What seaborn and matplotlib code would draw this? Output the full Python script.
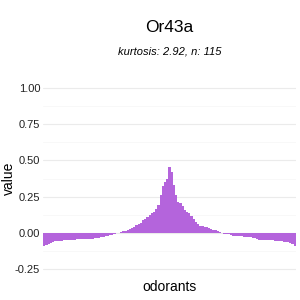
import matplotlib
matplotlib.use("Agg")
import matplotlib.pyplot as plt
import seaborn as sns
import pandas as pd
from matplotlib.ticker import MultipleLocator

title = "Or43a"
subtitle = "kurtosis: 2.92, n: 115"
y_ticks = [-0.25, 0.0, 0.25, 0.5, 0.75, 1.0]
y_tick_labels = ["-0.25", "0.00", "0.25", "0.50", "0.75", "1.00"]

values = [
    -0.094, -0.083, -0.075, -0.068, -0.063, -0.060, -0.058, -0.056, -0.054, -0.052,
    -0.051, -0.050, -0.049, -0.048, -0.047, -0.046, -0.046, -0.045, -0.045, -0.044,
    -0.044, -0.042, -0.040, -0.038, -0.036, -0.034, -0.032, -0.028, -0.024, -0.020,
    -0.016, -0.012, -0.008, -0.004, 0.001, 0.005, 0.010, 0.015, 0.020, 0.026,
    0.034, 0.043, 0.052, 0.060, 0.070, 0.085, 0.098, 0.110, 0.124, 0.135,
    0.145, 0.165, 0.193, 0.260, 0.320, 0.350, 0.370, 0.456,
    0.420, 0.330, 0.260, 0.215, 0.205, 0.186, 0.160, 0.145, 0.138, 0.117,
    0.096, 0.076, 0.062, 0.050, 0.046, 0.041, 0.038, 0.030, 0.027, 0.021,
    0.019, 0.010, 0.008, 0.002, -0.006, -0.007, -0.008, -0.014, -0.019, -0.020,
    -0.021, -0.022, -0.023, -0.029, -0.030, -0.031, -0.032, -0.038, -0.039, -0.040,
    -0.047, -0.048, -0.049, -0.050, -0.052, -0.053, -0.053, -0.054, -0.055, -0.059,
    -0.060, -0.061, -0.062, -0.065, -0.067, -0.078, -0.088,
]
odorants = [f"odor{i + 1}" for i in range(len(values))]

df = pd.DataFrame({"odorants": odorants, "value": values})

sns.set_theme(style="white")
plt.rcParams["font.family"] = ["Liberation Sans", "DejaVu Sans"]

fig = plt.figure(figsize=(3, 3), dpi=100)
ax = fig.add_axes([43 / 300, 1 - 277.7 / 300, 253 / 300, (277.7 - 79.3) / 300])

sns.barplot(data=df, x="odorants", y="value", order=odorants, color="#b464dc",
            saturation=1, width=1.0, linewidth=0, ax=ax)

ax.set_xlim(-0.6, len(values) - 0.4)
ax.set_ylim(-0.31, 1.06)
ax.set_yticks(y_ticks)
ax.set_yticklabels(y_tick_labels)
ax.yaxis.set_minor_locator(MultipleLocator(0.125))
ax.set_xticks([])
ax.grid(axis="y", which="major", color="#ebebeb", linewidth=0.8)
ax.grid(axis="y", which="minor", color="#f5f5f5", linewidth=0.5)
ax.set_axisbelow(True)
for s in ax.spines.values():
    s.set_visible(False)
ax.tick_params(axis="y", which="both", length=0, labelsize=8, labelcolor="#222222", pad=2)

ax.set_xlabel("odorants", fontsize=10, color="black", labelpad=2)
ax.set_ylabel("")
fig.text(9 / 300, 1 - 178 / 300, "value", rotation=90, ha="center", va="center",
         fontsize=10, color="black")

fig.text(169.5 / 300, 1 - 27 / 300, title, ha="center", va="center", fontsize=12.5, color="black")
fig.text(169.5 / 300, 1 - 52 / 300, subtitle, ha="center", va="center", fontsize=8,
         style="italic", color="black")

fig.savefig("out.png", dpi=100, facecolor="white")
